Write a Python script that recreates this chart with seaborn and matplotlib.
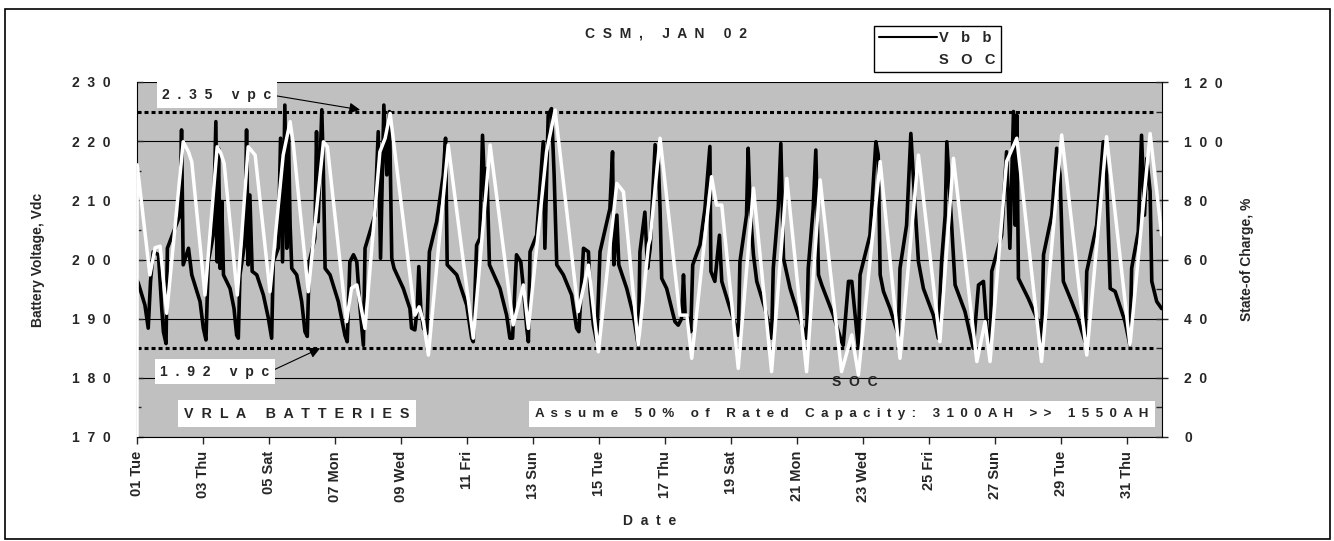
import numpy as np
import pandas as pd
import seaborn as sns
import matplotlib
matplotlib.use("Agg")
import matplotlib.pyplot as plt
import matplotlib.dates as mdates
from matplotlib.ticker import MultipleLocator, FuncFormatter, FixedLocator
from matplotlib.lines import Line2D
from matplotlib.patches import Rectangle

# battery bus voltage (day of month, volts)
vbb_day = [
    1.00, 1.04, 1.24, 1.34, 1.41, 1.49, 1.65, 1.75, 1.80, 1.88,
    1.92, 2.30, 2.35, 2.40, 2.56, 2.66, 2.91, 3.01, 3.09,
    3.16, 3.31, 3.39, 3.43, 3.47, 3.52, 3.57, 3.62, 3.82, 3.94, 4.02, 4.07,
    4.12, 4.27, 4.32, 4.37, 4.42, 4.49, 4.63, 4.83, 4.98, 5.08,
    5.13, 5.28, 5.35, 5.41, 5.48, 5.54, 5.59, 5.64, 5.69, 5.84, 5.99, 6.09, 6.16,
    6.22, 6.39, 6.44, 6.49, 6.60, 6.65, 6.70, 6.85, 7.10, 7.30, 7.37,
    7.45, 7.56, 7.66, 7.76, 7.86, 7.91, 8.21, 8.31, 8.38, 8.48, 8.57, 8.65, 8.72, 8.79,
    9.07, 9.27, 9.32, 9.42, 9.49, 9.54, 9.60, 9.68, 9.78,
    9.86, 10.08, 10.28, 10.35, 10.40, 10.69, 10.99, 11.14, 11.19,
    11.29, 11.39, 11.47, 11.55, 11.60, 11.68, 12.00, 12.20, 12.30, 12.38,
    12.50, 12.63, 12.71, 12.81, 12.86,
    12.91, 13.11, 13.31, 13.36, 13.46, 13.56, 13.64, 13.72, 13.92, 14.17, 14.32, 14.39,
    14.53, 14.68, 14.73, 14.83, 14.93,
    15.03, 15.33, 15.41, 15.45, 15.54, 15.60, 15.84, 16.04, 16.19,
    16.24, 16.39, 16.47, 16.55, 16.70, 16.80, 16.85, 16.90, 17.05, 17.30, 17.40,
    17.50, 17.56, 17.61, 17.71, 17.78,
    17.84, 18.06, 18.21, 18.36, 18.39, 18.51, 18.65, 18.72, 18.97, 19.22,
    19.27, 19.47, 19.52, 19.58, 19.68, 19.78, 20.03, 20.23,
    20.28, 20.43, 20.51, 20.59, 20.79, 21.04, 21.29,
    21.34, 21.49, 21.57, 21.65, 21.75, 22.10, 22.35, 22.40,
    22.56, 22.66, 22.76, 22.86,
    22.91, 23.21, 23.39, 23.46, 23.52, 23.62, 23.82, 24.07,
    24.12, 24.32, 24.45, 24.52, 24.58, 24.68, 24.83, 25.13, 25.28,
    25.38, 25.49, 25.54, 25.64, 25.79, 26.09, 26.34,
    26.50, 26.65, 26.75, 26.85,
    26.90, 27.20, 27.35, 27.45, 27.56, 27.61, 27.66, 27.71, 28.01, 28.31, 28.41,
    28.47, 28.72, 28.87, 28.97, 29.07, 29.32, 29.48, 29.73,
    29.78, 30.08, 30.28, 30.38, 30.49, 30.64, 30.94, 31.09,
    31.14, 31.34, 31.44, 31.53, 31.60, 31.70, 31.75, 31.90, 32.05,
]
vbb_volts = [
    196.5, 196.0, 192.3, 188.4, 196.3, 201.3, 200.8, 191.7, 187.8, 185.8,
    201.9, 207.5, 221.9, 199.1, 201.9, 197.4, 192.9, 188.4, 186.4,
    199.6, 204.1, 223.3, 199.6, 218.8, 198.5, 209.8, 197.4, 195.1, 191.7, 187.2, 186.7,
    197.4, 203.0, 221.9, 199.1, 210.9, 198.0, 197.4, 194.0, 190.1, 186.7,
    199.6, 201.9, 220.5, 199.6, 226.1, 201.9, 221.0, 205.8, 198.5, 197.4, 192.9, 187.8, 187.0,
    199.6, 203.6, 221.6, 206.4, 225.3, 214.3, 198.5, 197.4, 192.9, 187.2, 186.1,
    199.6, 200.8, 199.6, 191.7, 185.5, 201.9, 207.5, 221.6, 200.2, 226.1, 214.3, 225.0, 200.2, 198.5,
    195.1, 191.7, 188.4, 188.1, 191.7, 198.8, 191.7, 188.4, 187.5,
    201.3, 206.4, 214.3, 220.5, 199.1, 197.4, 192.3, 186.7, 186.1,
    202.4, 203.6, 221.0, 209.8, 215.4, 199.1, 195.1, 190.6, 186.7, 186.7,
    200.8, 199.6, 195.1, 188.4, 186.1,
    201.3, 204.1, 219.9, 201.9, 224.4, 225.5, 214.3, 199.1, 197.4, 194.0, 188.4, 187.8,
    201.9, 201.3, 194.6, 188.9, 186.1,
    201.3, 208.6, 218.2, 199.1, 207.5, 199.1, 195.1, 190.6, 185.5,
    201.3, 208.0, 198.5, 201.9, 219.4, 216.0, 208.6, 196.8, 195.1, 189.5, 188.9,
    190.0, 197.4, 190.6, 190.0, 187.8,
    199.1, 202.5, 208.6, 219.1, 198.0, 196.3, 204.1, 196.3, 191.7, 187.2,
    199.6, 207.5, 218.8, 208.6, 200.8, 196.3, 191.7, 186.7,
    198.5, 208.6, 219.6, 200.2, 195.1, 190.6, 186.7,
    198.5, 208.6, 218.5, 197.4, 195.7, 190.6, 186.1, 185.5,
    196.3, 196.3, 190.6, 185.0,
    197.4, 204.1, 219.9, 217.7, 197.4, 194.6, 191.7, 187.2,
    198.5, 205.8, 221.3, 214.3, 208.6, 199.6, 195.1, 190.6, 186.7,
    199.6, 207.5, 219.9, 210.3, 195.7, 191.2, 185.0,
    195.7, 196.3, 188.4, 184.4,
    198.0, 204.1, 218.2, 201.9, 225.0, 205.8, 224.4, 196.8, 193.4, 189.5, 186.1,
    200.8, 207.5, 218.8, 214.3, 196.3, 192.9, 190.6, 186.1,
    198.0, 205.8, 219.9, 214.3, 195.1, 194.6, 189.5, 185.5,
    198.5, 204.7, 221.0, 207.5, 217.1, 211.5, 196.3, 192.9, 191.7,
]

# state of charge (day of month, percent)
soc_day = [
    1.00, 1.005, 1.39, 1.55, 1.70, 1.90, 2.40, 2.56, 2.66, 3.06,
    3.43, 3.54, 3.64, 4.04, 4.37, 4.58, 5.03, 5.43, 5.64, 5.74, 6.19,
    6.65, 6.77, 7.35, 7.50, 7.66, 7.91, 8.36, 8.52, 8.67,
    9.42, 9.55, 9.68, 9.83, 10.43, 11.19, 11.70, 12.40, 12.71, 12.86,
    13.41, 13.67, 14.37, 14.68, 14.98, 15.54, 15.74, 16.19, 16.50, 16.55, 16.85,
    17.45, 17.66, 17.81, 18.41, 18.56, 18.72, 19.22, 19.68, 20.23, 20.69,
    21.29, 21.70, 22.35, 22.66, 22.86, 23.52, 24.12, 24.68, 25.33, 25.74,
    26.45, 26.70, 26.85, 27.35, 27.66, 28.41, 29.02, 29.78, 30.38, 31.09,
    31.70, 32.05,
]
soc_pct = [
    0.0, 92.0, 54.8, 64.0, 64.5, 41.8, 99.8, 96.4, 93.0, 48.0,
    98.1, 95.9, 92.5, 48.0, 98.1, 95.3, 49.1, 95.3, 106.6, 98.7, 49.1,
    99.8, 98.1, 39.0, 50.3, 51.4, 36.7, 96.4, 101.0, 109.4,
    41.2, 44.0, 39.0, 27.7, 98.7, 33.4, 98.7, 37.9, 51.4, 36.7,
    96.4, 110.5, 42.4, 58.1, 28.8, 85.7, 82.9, 31.1, 64.9, 67.0, 101.0,
    41.2, 41.2, 26.6, 88.0, 78.4, 78.4, 23.2, 84.1, 22.1, 87.4,
    22.1, 86.9, 22.1, 34.5, 21.0, 93.1, 26.6, 95.3, 32.2, 94.2,
    25.5, 39.0, 25.5, 93.1, 101.0, 25.5, 102.1, 27.7, 101.5, 31.1,
    102.6, 68.3,
]

vpc_limits = [225, 185]  # 2.35 and 1.92 volts per cell
tick_days = list(range(1, 32, 2))

start = pd.Timestamp("2002-01-01")


def when(d):
    # day-of-month (fractional) -> timestamp
    if np.ndim(d) == 0:
        return start + pd.Timedelta(days=float(d) - 1)
    return start + pd.to_timedelta(np.array(d, dtype=float) - 1, unit="D")


def dnum(d):
    return mdates.date2num(when(d))


def spaced(s, gap="  "):
    # the original chart uses wide letter spacing
    return gap.join(s)


vbb = pd.DataFrame({"time": when(vbb_day), "Vbb": vbb_volts})
soc = pd.DataFrame({"time": when(soc_day), "SOC": soc_pct})

sns.set_style("white")
plt.rcParams["font.family"] = ["Liberation Sans", "DejaVu Sans"]
plt.rcParams["font.weight"] = "bold"
plt.rcParams["axes.labelweight"] = "bold"

fig = plt.figure(figsize=(13.34, 5.41), dpi=100)
ax = fig.add_axes([137 / 1334, 1 - 437 / 541, 1025 / 1334, 355 / 541])
ax.set_facecolor("#c0c0c0")
ax2 = ax.twinx()

sns.lineplot(data=vbb, x="time", y="Vbb", ax=ax, color="black", lw=2.6, legend=False)
sns.lineplot(data=soc, x="time", y="SOC", ax=ax2, color="white", lw=2.5, legend=False)

# limit lines
ax.hlines(vpc_limits, dnum(1), dnum(31.8), colors="black", lw=2.2,
          linestyles=[(0, (1.3, 1.0))])

ax.set_xlim(when(1), when(32.06))
ax.set_ylim(170, 230)
ax2.set_ylim(0, 120)

ax.xaxis.set_major_locator(FixedLocator(dnum(tick_days)))
ax.xaxis.set_major_formatter(mdates.DateFormatter("%d %a"))
ax.yaxis.set_major_locator(MultipleLocator(10))
ax.yaxis.set_minor_locator(MultipleLocator(5))
ax2.yaxis.set_major_locator(MultipleLocator(20))
ax2.yaxis.set_minor_locator(MultipleLocator(10))
spaced_fmt = FuncFormatter(lambda v, p: spaced(f"{v:.0f}"))
ax.yaxis.set_major_formatter(spaced_fmt)
ax2.yaxis.set_major_formatter(spaced_fmt)

ax.tick_params(axis="y", which="major", direction="in", length=4, width=1,
               pad=19, labelsize=10, left=True)
ax.tick_params(axis="y", which="minor", direction="in", length=3, width=1, left=True)
ax.tick_params(axis="x", which="major", direction="out", length=5, width=1,
               pad=5, labelsize=10.5, bottom=True, labelrotation=90)
ax2.tick_params(axis="y", which="major", direction="inout", length=8, width=1,
                pad=12, labelsize=10, right=True)
ax2.tick_params(axis="y", which="minor", direction="in", length=4, width=1, right=True)

ax.yaxis.grid(True, which="major", color="black", lw=0.8)
ax.set_axisbelow(True)

for a in (ax, ax2):
    a.spines["top"].set_visible(False)
ax.spines["right"].set_visible(False)
ax.spines["left"].set_color("black")
ax.spines["bottom"].set_color("black")
ax2.spines["right"].set_color("black")
for s in ("left", "bottom"):
    ax2.spines[s].set_visible(False)

ax.set_xlabel(spaced("Date"), fontsize=10)
ax.xaxis.set_label_coords(0.5, -0.217)
ax.set_ylabel("Battery Voltage, Vdc", fontsize=10)
ax.yaxis.set_label_coords(-0.0898, 0.5)
ax2.set_ylabel("State-of Charge, %", fontsize=10)
ax2.yaxis.set_label_coords(1.076, 0.5)

box = dict(boxstyle="square,pad=0.4", fc="white", ec="none")
arrow = dict(arrowstyle="-|>", color="black", lw=0.8, mutation_scale=16,
             relpos=(1.0, 0.5), shrinkA=0, shrinkB=0)
ax2.annotate(spaced("2.35 vpc"), xy=(dnum(7.76), 225.3), xycoords=ax.transData,
             xytext=(dnum(3.42), 227.8), textcoords=ax.transData,
             ha="center", va="center", fontsize=10, bbox=box, arrowprops=arrow)
ax2.annotate(spaced("1.92 vpc"), xy=(dnum(6.55), 185.0), xycoords=ax.transData,
             xytext=(dnum(3.36), 181.0), textcoords=ax.transData,
             ha="center", va="center", fontsize=10, bbox=box, arrowprops=arrow)
ax2.text(dnum(5.85), 173.9, spaced("VRLA BATTERIES"), transform=ax.transData,
         ha="center", va="center", fontsize=10.3,
         bbox=dict(boxstyle="square,pad=0.45", fc="white", ec="none"))
ax2.text(dnum(22.36), 173.9,
         spaced("Assume 50% of Rated Capacity: 3100AH >> 1550AH", " \u2009"),
         transform=ax.transData, ha="center", va="center", fontsize=9.6,
         bbox=dict(boxstyle="square,pad=0.5", fc="white", ec="none"))
ax2.text(dnum(22.76), 179.3, spaced("SOC"), transform=ax.transData,
         ha="center", va="center", fontsize=10)

fig.text(666 / 1334, 1 - 34 / 541, spaced("CSM, JAN 02"), ha="center", va="center",
         fontsize=10)

handles = [Line2D([], [], color="black", lw=1.5), Line2D([], [], color="white", lw=1.5)]
fig.legend(handles, [spaced("Vbb", "   "), spaced("SOC", "   ")], loc="upper left",
           bbox_to_anchor=(874 / 1334, 1 - 26 / 541), frameon=True, fancybox=False,
           edgecolor="black", framealpha=1, borderaxespad=0, handlelength=4.0,
           handletextpad=0.1, fontsize=10.5, borderpad=0.35, labelspacing=0.55)

fig.patches.append(Rectangle((5 / 1334, 2 / 541), 1325 / 1334, 530 / 541,
                             transform=fig.transFigure, fill=False, ec="black", lw=1.2))

fig.savefig("out.png", dpi=100)
